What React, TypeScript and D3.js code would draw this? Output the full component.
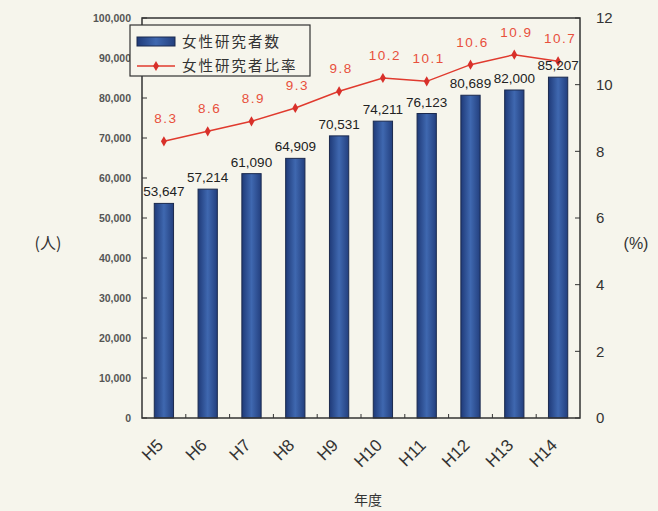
import * as d3 from "d3";

const years = ["H5", "H6", "H7", "H8", "H9", "H10", "H11", "H12", "H13", "H14"];
const researchers = [53647, 57214, 61090, 64909, 70531, 74211, 76123, 80689, 82000, 85207];
const ratio = [8.3, 8.6, 8.9, 9.3, 9.8, 10.2, 10.1, 10.6, 10.9, 10.7];
const leftTicks = [0, 10000, 20000, 30000, 40000, 50000, 60000, 70000, 80000, 90000, 100000];
const rightTicks = [0, 2, 4, 6, 8, 10, 12];

const W = 658;
const H = 511;
const margin = { top: 18, right: 78, bottom: 93, left: 142 };
const numFont = "'Liberation Sans', Arial, sans-serif";
const jpFont = "'Noto Sans CJK JP', sans-serif";

const App = () => {
  const x = d3
    .scaleBand()
    .domain(years)
    .range([margin.left, W - margin.right])
    .paddingInner(0.56)
    .paddingOuter(0.28);

  const yL = d3.scaleLinear().domain([0, 100000]).range([H - margin.bottom, margin.top]);
  const yR = d3.scaleLinear().domain([0, 12]).range([H - margin.bottom, margin.top]);
  const cx = (d: string) => (x(d) as number) + x.bandwidth() / 2;
  const step = x.step();

  const line = d3
    .line<number>()
    .x((_, i) => cx(years[i]))
    .y((d) => yR(d));

  const fmt = d3.format(",");
  const x0 = margin.left;
  const x1 = W - margin.right;
  const y0 = H - margin.bottom;
  const y1 = margin.top;

  const diamond = d3.symbol(d3.symbolDiamond, 30)() as string;

  return (
    <div style={{ position: "fixed", left: 0, top: 0 }}>
      <svg width={W} height={H} viewBox={`0 0 ${W} ${H}`}>
        <defs>
          <linearGradient id="bar" x1="0" x2="1" y1="0" y2="0">
            <stop offset="0" stopColor="#1f3a78" />
            <stop offset="0.5" stopColor="#3f68b0" />
            <stop offset="1" stopColor="#233f7e" />
          </linearGradient>
        </defs>
        <rect width={W} height={H} fill="#f6f5ec" />

        {/* bars */}
        {researchers.map((v, i) => (
          <rect
            key={years[i]}
            x={x(years[i])}
            y={yL(v)}
            width={x.bandwidth()}
            height={y0 - yL(v)}
            fill="url(#bar)"
            stroke="#1b2a4e"
            strokeWidth={1}
          />
        ))}

        {/* frame */}
        <rect x={x0} y={y1} width={x1 - x0} height={y0 - y1} fill="none" stroke="#333" strokeWidth={1.5} />

        {/* left ticks */}
        {leftTicks.map((t) => (
          <g key={t}>
            <line x1={x0} x2={x0 + 5} y1={yL(t)} y2={yL(t)} stroke="#333" />
            <text
              x={x0 - 11}
              y={yL(t)}
              dy="0.35em"
              textAnchor="end"
              fontFamily={numFont}
              fontSize={10.5}
              fontWeight="bold"
              fill="#555"
            >
              {fmt(t)}
            </text>
          </g>
        ))}

        {/* right ticks */}
        {rightTicks.map((t) => (
          <g key={t}>
            <line x1={x1 - 5} x2={x1} y1={yR(t)} y2={yR(t)} stroke="#333" />
            <text x={x1 + 16} y={yR(t)} dy="0.35em" fontFamily={numFont} fontSize={15} fill="#333">
              {t}
            </text>
          </g>
        ))}

        {/* bottom ticks */}
        {years.slice(1).map((d, i) => (
          <line
            key={d}
            x1={x0 + step * (i + 1)}
            x2={x0 + step * (i + 1)}
            y1={y0}
            y2={y0 - 4}
            stroke="#333"
          />
        ))}

        {/* x labels */}
        {years.map((d) => (
          <text
            key={d}
            transform={`translate(${cx(d) - 4},${y0 + 24}) rotate(-45)`}
            textAnchor="end"
            dy="0.35em"
            fontFamily={numFont}
            fontSize={17}
            fill="#333"
          >
            {d}
          </text>
        ))}

        {/* ratio line */}
        <path d={line(ratio) as string} fill="none" stroke="#e03a2e" strokeWidth={1.5} />
        {ratio.map((v, i) => (
          <path key={i} d={diamond} transform={`translate(${cx(years[i])},${yR(v)})`} fill="#d8302a" />
        ))}

        {/* bar labels */}
        {researchers.map((v, i) => (
          <text
            key={i}
            x={cx(years[i])}
            y={yL(v) - 7}
            textAnchor="middle"
            fontFamily={numFont}
            fontSize={13.5}
            fill="#222"
          >
            {fmt(v)}
          </text>
        ))}

        {/* ratio labels */}
        {ratio.map((v, i) => (
          <text
            key={i}
            x={cx(years[i]) + 2}
            y={yR(v) - 18}
            textAnchor="middle"
            fontFamily={numFont}
            fontSize={13.5}
            fill="#e8503c"
            letterSpacing={1.5}
          >
            {v.toFixed(1)}
          </text>
        ))}

        {/* legend */}
        <rect x={130} y={25} width={180} height={51} fill="#f6f5ec" stroke="#333" strokeWidth={1.2} />
        <rect x={137} y={37} width={38} height={9} fill="url(#bar)" stroke="#1b2a4e" />
        <text x={182} y={42} dy="0.35em" fontFamily={jpFont} fontSize={14.5} letterSpacing={2} fill="#333">
          女性研究者数
        </text>
        <line x1={137} x2={175} y1={66} y2={66} stroke="#e03a2e" strokeWidth={1.5} />
        <path d={diamond} transform="translate(156,66)" fill="#d8302a" />
        <text x={182} y={66} dy="0.35em" fontFamily={jpFont} fontSize={14.5} letterSpacing={2} fill="#333">
          女性研究者比率
        </text>

        {/* axis titles */}
        <text x={48} y={243} textAnchor="middle" dy="0.35em" fontFamily={jpFont} fontSize={16} fill="#333">
          (人)
        </text>
        <text x={636} y={243} textAnchor="middle" dy="0.35em" fontFamily={numFont} fontSize={16} fill="#333">
          (%)
        </text>
        <text x={368} y={500} textAnchor="middle" dy="0.35em" fontFamily={jpFont} fontSize={14} fill="#333">
          年度
        </text>
      </svg>
    </div>
  );
};

export default App;
